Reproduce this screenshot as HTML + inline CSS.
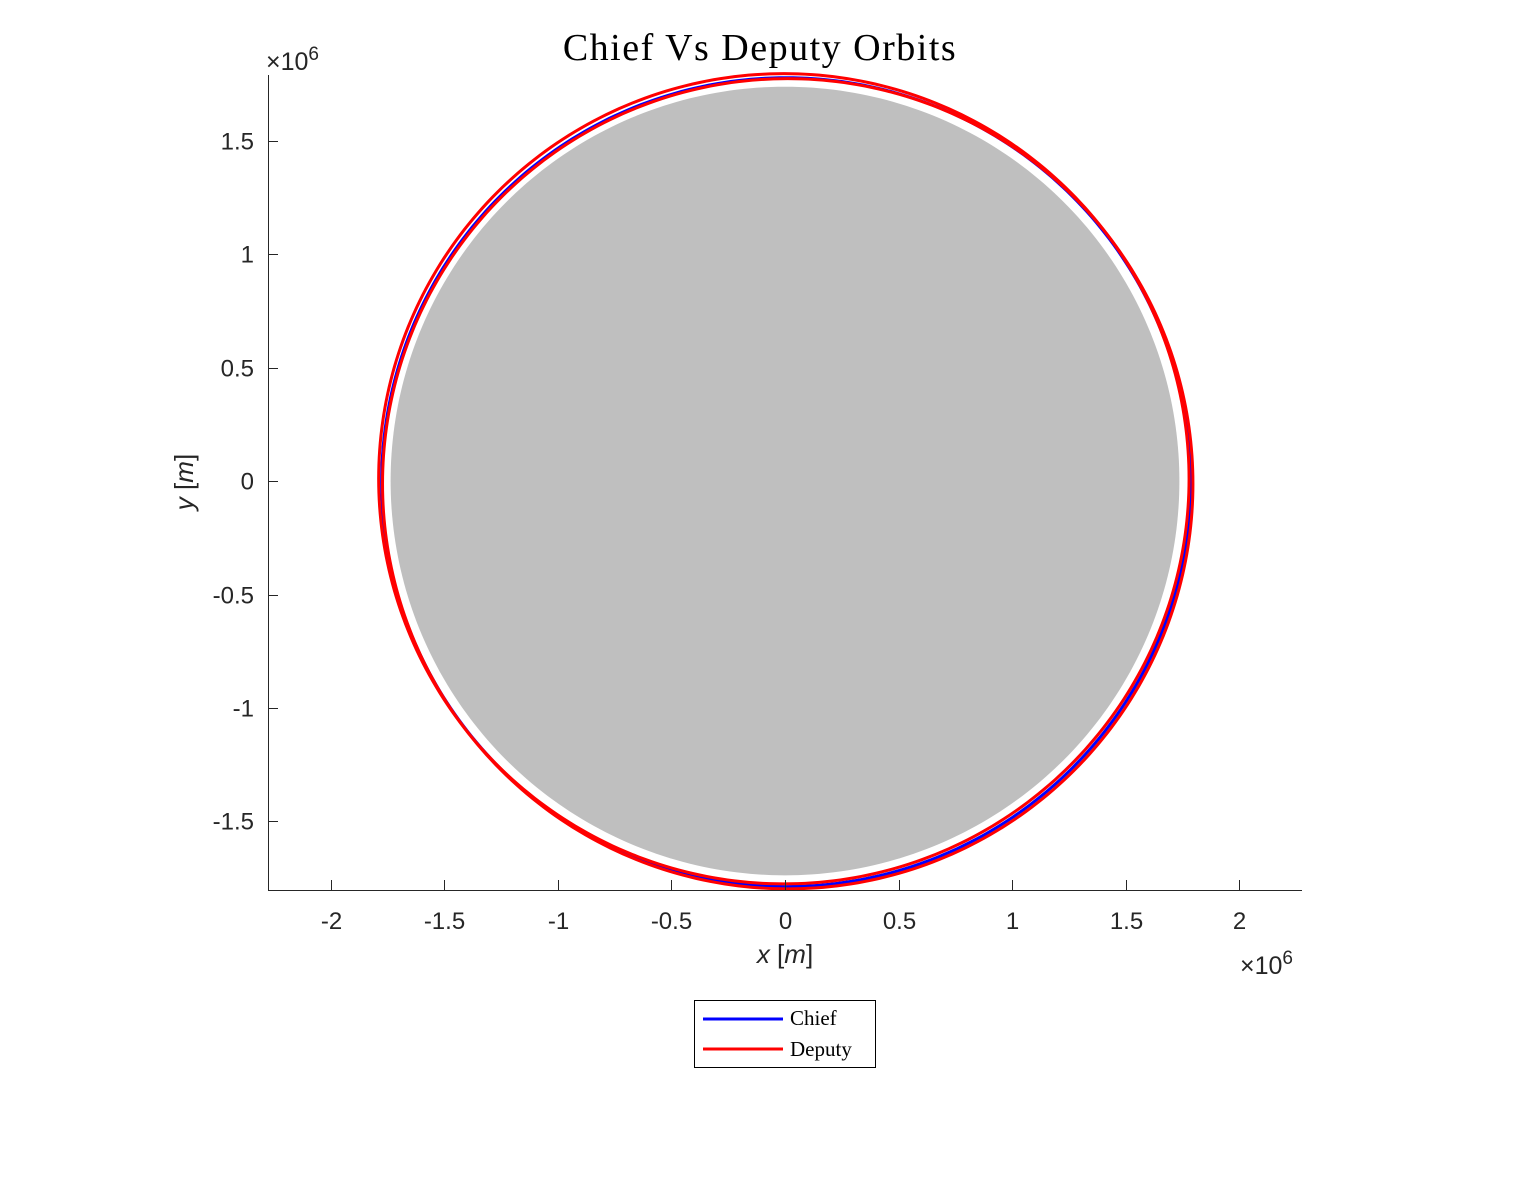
<!DOCTYPE html>
<html><head><meta charset="utf-8"><style>
html,body{margin:0;padding:0;background:#fff;}
svg text{font-family:"Liberation Sans",sans-serif;}
.ser{font-family:"Liberation Serif",serif;}
</style></head><body>
<svg id="chart" width="1517" height="1178" viewBox="0 0 1517 1178" xmlns="http://www.w3.org/2000/svg">
<rect width="1517" height="1178" fill="#fff"/>
<text class="ser" x="760" y="60" text-anchor="middle" font-size="38" letter-spacing="1.5" fill="#000">Chief Vs Deputy Orbits</text>
<g id="plot"></g>
<g id="axes"></g>
<g>
<rect x="694.5" y="1000.5" width="181" height="67" fill="#fff" stroke="#000" stroke-width="1"/>
<line x1="703" y1="1019" x2="783" y2="1019" stroke="#0000ff" stroke-width="3"/>
<text class="ser" x="790" y="1025" font-size="21" fill="#000">Chief</text>
<line x1="703" y1="1049" x2="783" y2="1049" stroke="#ff0000" stroke-width="3"/>
<text class="ser" x="790" y="1056" font-size="21" fill="#000">Deputy</text>
</g>
</svg>
<script>
// data (units of 1e6 m)
const xTicks = [-2, -1.5, -1, -0.5, 0, 0.5, 1, 1.5, 2];
const yTicks = [-1.5, -1, -0.5, 0, 0.5, 1, 1.5];
const moonRadius = [1.7374];
const chiefCx = [0.005];
const chiefCy = [-0.005];
const chiefR = [1.782];
const deputyCx = [-0.005, 0.012];
const deputyCy = [0.01, -0.012];
const deputyR = [1.785, 1.785];

const NS = "http://www.w3.org/2000/svg";
const X0 = 268, X1 = 1302, Y0 = 75, Y1 = 890;
const xMin = -2.2775, xMax = 2.2775, yMin = -1.802, yMax = 1.789;
const sx = v => X0 + (v - xMin) / (xMax - xMin) * (X1 - X0);
const sy = v => Y1 - (v - yMin) / (yMax - yMin) * (Y1 - Y0);
const plot = document.getElementById('plot');
const axes = document.getElementById('axes');
function mk(tag, attrs, parent) {
  const e = document.createElementNS(NS, tag);
  for (const k in attrs) e.setAttribute(k, attrs[k]);
  parent.appendChild(e);
  return e;
}
function circPath(cx, cy, r) {
  let d = '';
  for (let i = 0; i <= 360; i++) {
    const t = i * Math.PI / 180;
    d += (i ? 'L' : 'M') + sx(cx + r * Math.cos(t)).toFixed(2) + ',' + sy(cy + r * Math.sin(t)).toFixed(2);
  }
  return d + 'Z';
}
const moon = mk('path', {d: circPath(0, 0, moonRadius[0]), fill: '#bfbfbf', stroke: 'none'}, plot);


chiefR.forEach((r, i) => {
  const p = mk('path', {d: circPath(chiefCx[i], chiefCy[i], r), fill: 'none', stroke: '#0000ff', 'stroke-width': 3}, plot);
  
  
});
deputyR.forEach((r, i) => {
  const p = mk('path', {d: circPath(deputyCx[i], deputyCy[i], r), fill: 'none', stroke: '#ff0000', 'stroke-width': 3}, plot);
  
  
});
const xa = mk('line', {x1: X0, y1: Y1 + 0.5, x2: X1, y2: Y1 + 0.5, stroke: '#262626', 'stroke-width': 1}, axes);


const ya = mk('line', {x1: X0 + 0.5, y1: Y0, x2: X0 + 0.5, y2: Y1, stroke: '#262626', 'stroke-width': 1}, axes);


xTicks.forEach(v => {
  const x = Math.round(sx(v)) + 0.5;
  mk('line', {x1: x, y1: Y1, x2: x, y2: Y1 - 10, stroke: '#262626'}, axes);
  const t = mk('text', {x: x, y: Y1 + 39, 'text-anchor': 'middle', 'font-size': 24, fill: '#262626'}, axes);
  t.textContent = String(v);
  
  
});
yTicks.forEach(v => {
  const y = Math.round(sy(v)) + 0.5;
  mk('line', {x1: X0, y1: y, x2: X0 + 10, y2: y, stroke: '#262626'}, axes);
  const t = mk('text', {x: X0 - 14, y: y + 8, 'text-anchor': 'end', 'font-size': 24, fill: '#262626'}, axes);
  t.textContent = String(v);
  
  
});
</script>
<svg style="position:absolute;left:0;top:0" width="1517" height="1178" xmlns="http://www.w3.org/2000/svg">
<text x="266" y="70" font-size="25" fill="#262626" font-family="Liberation Sans, sans-serif">×10<tspan dy="-10" font-size="19">6</tspan></text>
<text x="1240" y="974" font-size="25" fill="#262626" font-family="Liberation Sans, sans-serif">×10<tspan dy="-10" font-size="19">6</tspan></text>
<text x="785" y="963" text-anchor="middle" font-size="26" fill="#262626" font-family="Liberation Serif, serif" font-style="italic">x <tspan font-style="normal">[</tspan>m<tspan font-style="normal">]</tspan></text>
<text transform="translate(193,482) rotate(-90)" text-anchor="middle" font-size="26" fill="#262626" font-family="Liberation Serif, serif" font-style="italic">y <tspan font-style="normal">[</tspan>m<tspan font-style="normal">]</tspan></text>
</svg>
</body></html>
